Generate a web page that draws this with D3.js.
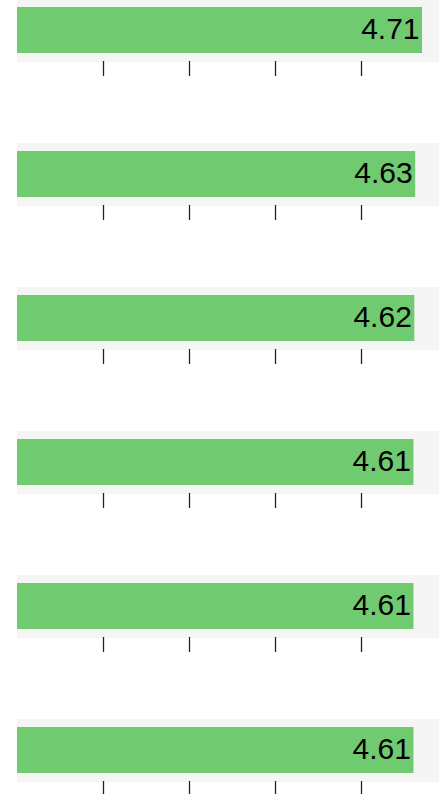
<!DOCTYPE html>
<html>
<head>
<meta charset="utf-8">
<script src="https://cdn.jsdelivr.net/npm/d3@7"></script>
<style>
  html, body { margin: 0; padding: 0; background: #ffffff; overflow: hidden; }
  svg { display: block; }
</style>
</head>
<body>
<svg id="chart" width="439" height="794"></svg>
<script>
const rows = ["r1", "r2", "r3", "r4", "r5", "r6"];
const values = [4.71, 4.63, 4.62, 4.61, 4.61, 4.61];
const tickValues = [1, 2, 3, 4];
const domainMax = 5;

const W = 439, H = 794;
const rowStep = 144, rowTop = -1;
const bandH = 63, barPad = 8, barH = 46;
const left = 17;

const svg = d3.select("#chart");
const x = d3.scaleLinear().domain([0, domainMax]).range([left, left + 86 * domainMax]);

const g = svg.selectAll("g.row").data(rows).join("g")
  .attr("class", "row")
  .attr("transform", (d, i) => `translate(0,${rowTop + i * rowStep})`);

g.append("rect")
  .attr("x", x(0)).attr("y", 0)
  .attr("width", x(domainMax) - x(0)).attr("height", bandH)
  .attr("fill", "#f5f5f5");

g.append("rect")
  .attr("x", x(0)).attr("y", barPad)
  .attr("width", (d, i) => x(values[i]) - x(0)).attr("height", barH)
  .attr("fill", "#70cb70");

g.append("text")
  .attr("x", (d, i) => x(values[i]) - 2.5)
  .attr("y", barPad + barH / 2 + 8.5)
  .attr("text-anchor", "end")
  .attr("font-family", "Liberation Sans, Arial, sans-serif")
  .attr("font-size", 30)
  .attr("fill", "#000")
  .text((d, i) => values[i].toFixed(2));

g.append("g")
  .attr("transform", `translate(0,${bandH - 1})`)
  .each(function () {
    const ax = d3.axisBottom(x).tickValues(tickValues).tickSize(15).tickFormat("");
    const sel = d3.select(this).call(ax);
    sel.select(".domain").remove();
    sel.selectAll(".tick line").attr("stroke", "#222").attr("stroke-width", 1.3);
  });
</script>
</body>
</html>
